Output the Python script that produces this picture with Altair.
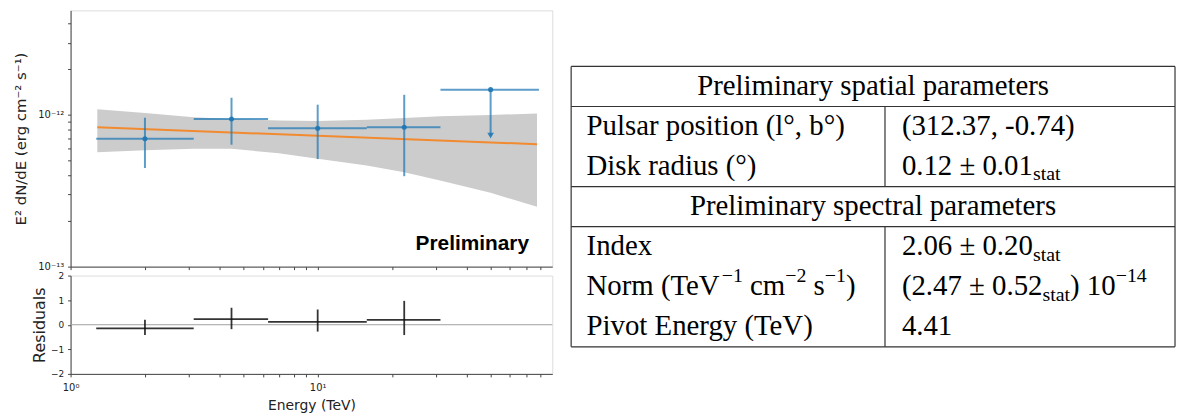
import altair as alt
import pandas as pd

# ---------------- data ----------------
# SED flux points (TeV, erg cm-2 s-1)
energy = [2.0, 4.48, 10.0, 22.4]
energy_lo = [1.27, 3.15, 6.3, 15.8]
energy_hi = [3.15, 6.3, 15.8, 31.4]
flux = [6.97e-13, 9.41e-13, 8.17e-13, 8.29e-13]
flux_lo = [4.47e-13, 6.37e-13, 5.12e-13, 3.95e-13]
flux_hi = [9.6e-13, 1.30e-12, 1.17e-12, 1.36e-12]

# upper limit
ul_energy = [50.1]
ul_energy_lo = [31.4]
ul_energy_hi = [78.6]
ul_flux = [1.47e-12]
ul_arrow_flux = [7.3e-13]

# best-fit model and its error band
model_energy = [1.283, 77.2]
model_flux = [8.29e-13, 6.42e-13]
band_energy = [1.283, 2.0, 3.15, 4.48, 6.96, 10.0, 15.8, 22.4, 31.3, 50.1, 77.2]
band_lo = [5.69e-13, 5.86e-13, 5.98e-13, 5.98e-13, 5.6e-13, 5.15e-13, 4.65e-13, 4.2e-13, 3.7e-13, 3.07e-13, 2.48e-13]
band_hi = [1.09e-12, 1.03e-12, 9.65e-13, 9.4e-13, 9.2e-13, 9.13e-13, 9.3e-13, 9.55e-13, 9.8e-13, 1.0e-12, 1.025e-12]

# residuals
resid = [-0.15, 0.23, 0.12, 0.20]
resid_lo = [-0.42, -0.18, -0.28, -0.42]
resid_hi = [0.20, 0.69, 0.62, 0.97]

# axes
x_ticks = [1, 2, 3, 4, 5, 6, 7, 8, 9, 10, 20, 30, 40, 50, 60, 70, 80]
y_ticks = [1e-13, 2e-13, 3e-13, 4e-13, 5e-13, 6e-13, 7e-13, 8e-13, 9e-13, 1e-12, 2e-12, 3e-12, 4e-12]
res_ticks = [-2, -1, 0, 1, 2]
x_domain = [1, 89]
y_domain = [1e-13, 4.9e-12]
res_domain = [-2, 2]

watermark = ["Preliminary"]
watermark_energy = [71.7]
watermark_flux = [1.29e-13]

# table text
table_headers = ["Preliminary spatial parameters", "Preliminary spectral parameters"]
left_cells = [
    [("Pulsar position (l°, b°)", "n")],
    [("Disk radius (°)", "n")],
    [("Index", "n")],
    [("Norm (TeV", "n"), ("−1", "sup"), (" cm", "n"), ("−2", "sup"), (" s", "n"), ("−1", "sup"), (")", "n")],
    [("Pivot Energy (TeV)", "n")],
]
right_cells = [
    [("(312.37, -0.74)", "n")],
    [("0.12 ± 0.01", "n"), ("stat", "sub")],
    [("2.06 ± 0.20", "n"), ("stat", "sub")],
    [("(2.47 ± 0.52", "n"), ("stat", "sub"), (") 10", "n"), ("−14", "sup")],
    [("4.41", "n")],
]

# ---------------- layout / style ----------------
BLUE = "#1f77b4"
ORANGE = "#f28a30"
AX = "#444444"
TXT = "#222222"
PW, PH, RH = 485, 258, 99

xs = alt.Scale(type="log", domain=x_domain, nice=False)
ys = alt.Scale(type="log", domain=y_domain, nice=False)
rs = alt.Scale(domain=res_domain, nice=False)

x_top_axis = alt.Axis(values=x_ticks, labels=False, tickSize=3, title=None, grid=False,
                      domainColor=AX, tickColor=AX)
y_top_axis = alt.Axis(values=y_ticks, tickSize=3, labelPadding=4, grid=False,
                      labelExpr="datum.value == 1e-12 ? '10⁻¹²' : datum.value == 1e-13 ? '10⁻¹³' : ''",
                      labelOverlap=False, labelFontSize=10, labelFont="DejaVu Sans", labelColor=TXT,
                      title="E² dN/dE (erg  cm⁻²  s⁻¹)", titleFontSize=15, titleFont="DejaVu Sans",
                      titleFontWeight="normal", titleColor=TXT, titlePadding=8,
                      minExtent=34, maxExtent=34, domainColor=AX, tickColor=AX)
x_bot_axis = alt.Axis(values=x_ticks, tickSize=3, labelPadding=6, grid=False,
                      labelExpr="datum.value == 1 ? '10⁰' : datum.value == 10 ? '10¹' : ''",
                      labelOverlap=False, labelFlush=False, labelFontSize=10, labelFont="DejaVu Sans",
                      labelColor=TXT, title="Energy (TeV)", titleFontSize=14, titleFont="DejaVu Sans",
                      titleFontWeight="normal", titleColor=TXT, titlePadding=6,
                      domainColor=AX, tickColor=AX)
y_bot_axis = alt.Axis(values=res_ticks, tickSize=3, labelPadding=4, grid=False, labelOverlap=False,
                      labelFontSize=9, labelFont="DejaVu Sans", labelColor=TXT,
                      title="Residuals", titleFontSize=16, titleFont="DejaVu Sans",
                      titleFontWeight="normal", titleColor=TXT, titlePadding=3,
                      minExtent=20, maxExtent=20, domainColor=AX, tickColor=AX)


def TX(f):
    return alt.X(f, type="quantitative", scale=xs, axis=x_top_axis)


def TY(f):
    return alt.Y(f, type="quantitative", scale=ys, axis=y_top_axis)


def BX(f):
    return alt.X(f, type="quantitative", scale=xs, axis=x_bot_axis)


def BY(f):
    return alt.Y(f, type="quantitative", scale=rs, axis=y_bot_axis)


df_pts = pd.DataFrame({"E": energy, "Elo": energy_lo, "Ehi": energy_hi,
                       "F": flux, "Flo": flux_lo, "Fhi": flux_hi,
                       "R": resid, "Rlo": resid_lo, "Rhi": resid_hi})
df_ul = pd.DataFrame({"E": ul_energy, "Elo": ul_energy_lo, "Ehi": ul_energy_hi,
                      "F": ul_flux, "Fa": ul_arrow_flux})
df_model = pd.DataFrame({"E": model_energy, "F": model_flux})
df_band = pd.DataFrame({"E": band_energy, "lo": band_lo, "hi": band_hi})
df_wm = pd.DataFrame({"E": watermark_energy, "F": watermark_flux, "t": watermark})
df_zero = pd.DataFrame({"z": [0.0]})

band = alt.Chart(df_band).mark_area(color="#cccccc", opacity=1).encode(
    x=TX("E"), y=TY("lo"), y2="hi")
line = alt.Chart(df_model).mark_line(color=ORANGE, strokeWidth=2).encode(x=TX("E"), y=TY("F"))
xbar = alt.Chart(df_pts).mark_rule(color=BLUE, opacity=0.72, strokeWidth=2).encode(
    x=TX("Elo"), x2="Ehi", y=TY("F"))
ybar = alt.Chart(df_pts).mark_rule(color=BLUE, opacity=0.72, strokeWidth=2).encode(
    x=TX("E"), y=TY("Flo"), y2="Fhi")
pts = alt.Chart(df_pts).mark_circle(color=BLUE, opacity=0.9, size=26).encode(x=TX("E"), y=TY("F"))
ulh = alt.Chart(df_ul).mark_rule(color=BLUE, opacity=0.72, strokeWidth=2).encode(
    x=TX("Elo"), x2="Ehi", y=TY("F"))
ulv = alt.Chart(df_ul).mark_rule(color=BLUE, opacity=0.72, strokeWidth=2).encode(
    x=TX("E"), y=TY("Fa"), y2="F")
ult = alt.Chart(df_ul).mark_point(shape="triangle-down", filled=True, color=BLUE, opacity=0.85,
                                   size=45).encode(x=TX("E"), y=TY("Fa"))
ulp = alt.Chart(df_ul).mark_circle(color=BLUE, opacity=0.9, size=26).encode(x=TX("E"), y=TY("F"))
wm = alt.Chart(df_wm).mark_text(align="right", baseline="alphabetic", font="Liberation Sans",
                                fontSize=21, fontWeight="bold", color="black").encode(
    x=TX("E"), y=TY("F"), text="t:N")

top = alt.layer(band, line, xbar, ybar, pts, ulh, ulv, ult, ulp, wm).properties(width=PW, height=PH)

zero = alt.Chart(df_zero).mark_rule(color="#a0a0a0", strokeWidth=1).encode(y=BY("z"))
rx = alt.Chart(df_pts).mark_rule(color="#111111", opacity=0.85, strokeWidth=1.8).encode(
    x=BX("Elo"), x2="Ehi", y=BY("R"))
ry = alt.Chart(df_pts).mark_rule(color="#111111", opacity=0.85, strokeWidth=1.8).encode(
    x=BX("E"), y=BY("Rlo"), y2="Rhi")
bottom = alt.layer(zero, rx, ry).properties(width=PW, height=RH)

left = alt.vconcat(top, bottom, spacing=9, bounds="flush")

# ---------------- table ----------------
TW = 608.0
TH = 368.0
ROW_H = 40.33
T_TOP = 1.40               # rows of empty space above the table
FS, FS_S = 29, 20
COL_DIV = 316.0
X_L, X_R = 15.5, 333.0
W = {" ": 250, "(": 333, ")": 333, ",": 250, "-": 333, ".": 250, "±": 549, "−": 564,
     "N": 722, "o": 500, "r": 333, "m": 778, "T": 611, "e": 444, "V": 722, "c": 444,
     "s": 389, "t": 278, "a": 444}


def tw(s, fs):
    return sum(W.get(ch, 500) for ch in s) * fs / 1000.0


body_rows = [1, 2, 4, 5, 6]
segs = []
for cells, x0 in ((left_cells, X_L), (right_cells, X_R)):
    for r, cell in zip(body_rows, cells):
        cur = x0
        for text, kind in cell:
            fs = FS if kind == "n" else FS_S
            lead = len(text) - len(text.lstrip(" "))
            segs.append({"x": cur + tw(" " * lead, fs), "row": r + 0.5, "t": text.lstrip(" "), "k": kind})
            cur += tw(text, fs)
df_seg = pd.DataFrame(segs)
df_head = pd.DataFrame({"x": [TW / 2, TW / 2], "row": [0.5, 3.5], "t": table_headers})
df_h = pd.DataFrame({"y": [0, 1, 3, 4, 7], "x1": [0] * 5, "x2": [TW] * 5})
df_v = pd.DataFrame({"x": [0, TW, COL_DIV, COL_DIV], "y1": [0, 0, 1, 4], "y2": [7, 7, 3, 7]})

tx = alt.Scale(domain=[0, TW], nice=False)
ty = alt.Scale(domain=[-T_TOP, -T_TOP + TH / ROW_H], nice=False, reverse=True, zero=False)


def TXX(f):
    return alt.X(f, type="quantitative", scale=tx, axis=None)


def TYY(f):
    return alt.Y(f, type="quantitative", scale=ty, axis=None)


hl = alt.Chart(df_h).mark_rule(color="#333333", strokeWidth=1.2).encode(x=TXX("x1"), x2="x2", y=TYY("y"))
vl = alt.Chart(df_v).mark_rule(color="#333333", strokeWidth=1.2).encode(x=TXX("x"), y=TYY("y1"), y2="y2")
head = alt.Chart(df_head).mark_text(align="center", baseline="alphabetic", dy=8.5, font="Liberation Serif",
                                    fontSize=FS, color="black").encode(x=TXX("x"), y=TYY("row"), text="t:N")
main = alt.Chart(df_seg).transform_filter("datum.k == 'n'").mark_text(
    align="left", baseline="alphabetic", dy=8.5, font="Liberation Serif", fontSize=FS, color="black").encode(
    x=TXX("x"), y=TYY("row"), text="t:N")
sub = alt.Chart(df_seg).transform_filter("datum.k == 'sub'").mark_text(
    align="left", baseline="alphabetic", dy=14, font="Liberation Serif", fontSize=FS_S, color="black").encode(
    x=TXX("x"), y=TYY("row"), text="t:N")
sup = alt.Chart(df_seg).transform_filter("datum.k == 'sup'").mark_text(
    align="left", baseline="alphabetic", dy=-4.5, font="Liberation Serif", fontSize=FS_S, color="black").encode(
    x=TXX("x"), y=TYY("row"), text="t:N")

table = alt.layer(hl, vl, head, main, sub, sup).properties(
    width=TW, height=TH, view=alt.ViewBackground(strokeOpacity=0))

chart = alt.hconcat(left, table, spacing=17).properties(
    padding={"left": 5, "top": 0, "right": 0, "bottom": 0}
).configure_view(stroke=AX, strokeWidth=1).configure(background="white")

chart.save("out.html", embed_options={"renderer": "svg", "actions": False})
